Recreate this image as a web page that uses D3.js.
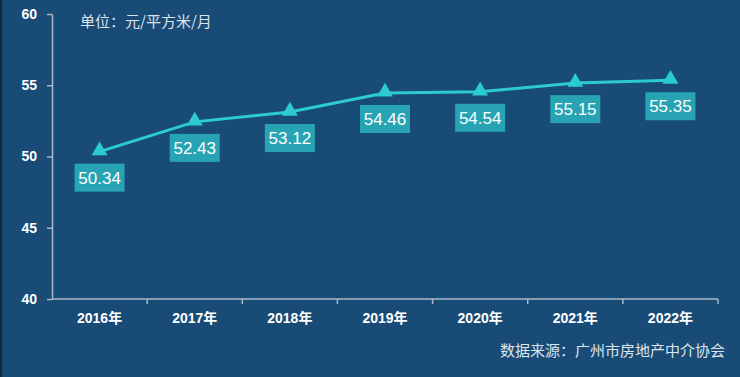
<!DOCTYPE html>
<html>
<head>
<meta charset="utf-8">
<script src="https://cdn.jsdelivr.net/npm/d3@7"></script>
<style>
  body { margin: 0; background: #194b77; }
  svg { display: block; }
</style>
</head>
<body>
<svg id="drawing_region"></svg>
<script>
const years = ['2016年', '2017年', '2018年', '2019年', '2020年', '2021年', '2022年'];
const rents = [50.34, 52.43, 53.12, 54.46, 54.54, 55.15, 55.35];
const yticks = [40, 45, 50, 55, 60];

const config = {
    width: 740,
    height: 377,
    margin: {top: 14, right: 22, bottom: 78, left: 52}
};

const svg = d3.select('#drawing_region')
    .attr('width', config.width)
    .attr('height', config.height);

svg.append('rect')
    .attr('width', config.width).attr('height', config.height)
    .attr('fill', '#194b77');
svg.append('rect')
    .attr('width', 2).attr('height', config.height)
    .attr('fill', '#0f2a44');

const inner_width = config.width - config.margin.left - config.margin.right;
const inner_height = config.height - config.margin.top - config.margin.bottom;

const chart = svg.append('g')
    .attr('transform', `translate(${config.margin.left}, ${config.margin.top})`);

const xscale = d3.scaleBand()
    .domain(years)
    .range([0, inner_width]);

const yscale = d3.scaleLinear()
    .domain([40, 60])
    .range([inner_height, 0]);

const axisColor = '#aab8c8';

// y axis
const yaxis_group = chart.append('g')
    .call(d3.axisLeft(yscale).tickValues(yticks).tickSize(5).tickSizeOuter(0).tickPadding(10));
yaxis_group.select('.domain').attr('stroke', axisColor).attr('stroke-width', 1.5);
yaxis_group.selectAll('.tick line').attr('stroke', axisColor).attr('stroke-width', 1.5);
yaxis_group.selectAll('.tick text')
    .attr('fill', '#ffffff')
    .attr('font-family', 'Liberation Sans, Arial, sans-serif')
    .attr('font-weight', 'bold')
    .attr('font-size', 14);

// x axis with ticks at band boundaries
const xaxis_group = chart.append('g')
    .attr('transform', `translate(0, ${inner_height})`);
xaxis_group.append('line')
    .attr('x1', 0).attr('x2', inner_width)
    .attr('stroke', axisColor).attr('stroke-width', 1.5);
xaxis_group.selectAll('.xtick')
    .data(years.slice(1).concat(['end']))
    .join('line')
    .attr('class', 'xtick')
    .attr('x1', (d, i) => xscale.step() * (i + 1))
    .attr('x2', (d, i) => xscale.step() * (i + 1))
    .attr('y1', 0).attr('y2', 5)
    .attr('stroke', axisColor).attr('stroke-width', 1.5);
xaxis_group.selectAll('.xlabel')
    .data(years)
    .join('text')
    .attr('class', 'xlabel')
    .attr('x', d => xscale(d) + xscale.bandwidth() / 2)
    .attr('y', 24)
    .attr('text-anchor', 'middle')
    .attr('fill', '#ffffff')
    .attr('font-family', 'Liberation Sans, "Noto Sans CJK SC", sans-serif')
    .attr('font-weight', 'bold')
    .attr('font-size', 14)
    .text(d => d);

// line
const cx = d => xscale(d) + xscale.bandwidth() / 2;
const line = d3.line()
    .x((d, i) => cx(years[i]))
    .y(d => yscale(d));

chart.append('path')
    .datum(rents)
    .attr('d', line)
    .attr('stroke', '#2ccbd2')
    .attr('stroke-width', 3)
    .attr('fill', 'none');

chart.selectAll('.marker')
    .data(rents)
    .join('path')
    .attr('class', 'marker')
    .attr('d', d3.symbol().type(d3.symbolTriangle).size(110))
    .attr('transform', (d, i) => `translate(${cx(years[i])}, ${yscale(d) - 1})`)
    .attr('fill', '#2ccbd2');

// value labels
const labels = chart.selectAll('.vlabel')
    .data(rents)
    .join('g')
    .attr('class', 'vlabel')
    .attr('transform', (d, i) => `translate(${cx(years[i])}, ${yscale(d) + 26})`);
labels.append('rect')
    .attr('x', -25).attr('y', -14)
    .attr('width', 50).attr('height', 28)
    .attr('fill', '#27a3b3');
labels.append('text')
    .attr('text-anchor', 'middle')
    .attr('dy', '0.36em')
    .attr('fill', '#ffffff')
    .attr('font-family', 'Liberation Sans, Arial, sans-serif')
    .attr('font-size', 17)
    .text(d => d.toFixed(2));

// unit note and source
svg.append('text')
    .attr('x', 80).attr('y', 27)
    .attr('fill', '#dde4ec')
    .attr('font-family', '"Noto Sans CJK SC", sans-serif')
    .attr('font-size', 15)
    .text('单位：元/平方米/月');

svg.append('text')
    .attr('x', 725).attr('y', 356)
    .attr('text-anchor', 'end')
    .attr('fill', '#dde4ec')
    .attr('font-family', '"Noto Sans CJK SC", sans-serif')
    .attr('font-size', 15)
    .text('数据来源：广州市房地产中介协会');
</script>
</body>
</html>
